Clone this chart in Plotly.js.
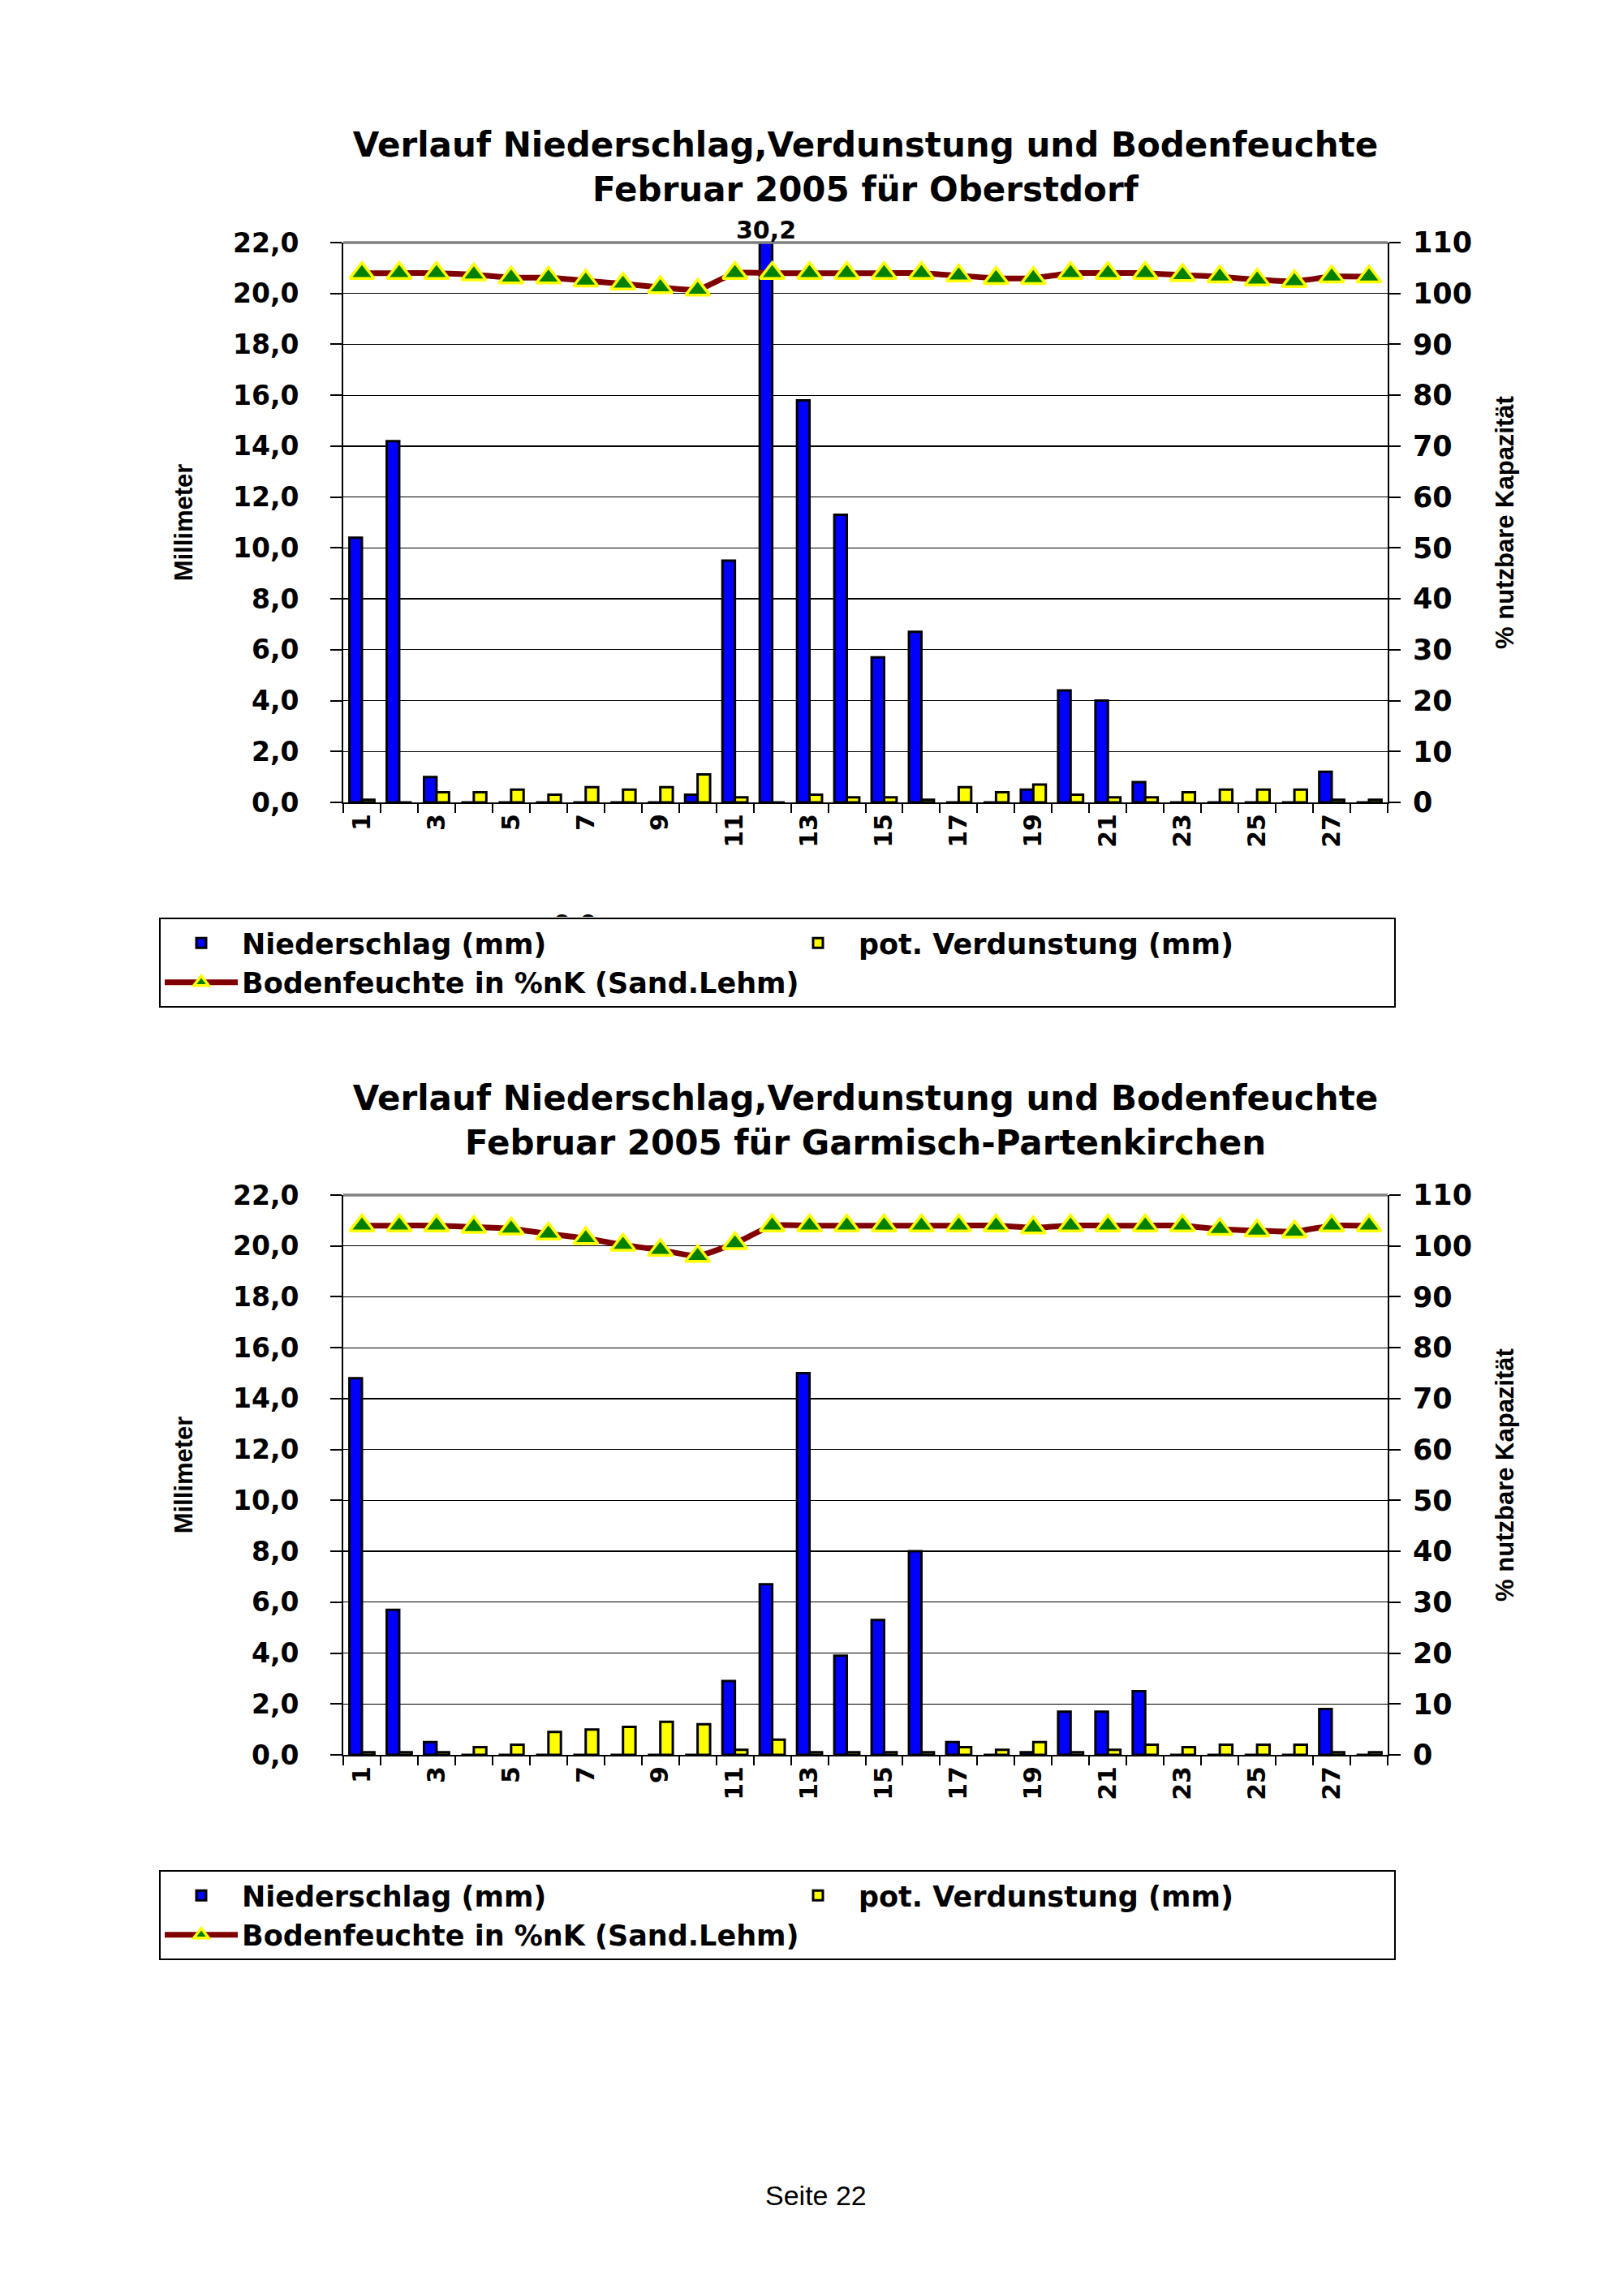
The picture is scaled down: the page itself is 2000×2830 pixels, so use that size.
<!DOCTYPE html>
<html><head><meta charset="utf-8">
<script src="https://cdn.plot.ly/plotly-3.0.1.min.js"></script>
<style>
html,body{margin:0;padding:0;background:#fff;width:2000px;height:2830px;overflow:hidden}
#c1{position:absolute;left:0;top:0;width:2000px;height:1310px}
#c2{position:absolute;left:0;top:1310px;width:2000px;height:1520px}
</style></head><body>
<div id="c1"></div><div id="c2"></div>
<script>
// ---- data ----
const days = ["1","2","3","4","5","6","7","8","9","10","11","12","13","14","15","16","17","18","19","20","21","22","23","24","25","26","27","28"];
const dayLabels = ["1","","3","","5","","7","","9","","11","","13","","15","","17","","19","","21","","23","","25","","27",""];
const seriesNames = ["Niederschlag (mm)", "pot. Verdunstung (mm)", "Bodenfeuchte in %nK (Sand.Lehm)"];
const titleTop = ["Verlauf Niederschlag,Verdunstung und Bodenfeuchte", "Februar 2005 für Oberstdorf"];
const titleBottom = ["Verlauf Niederschlag,Verdunstung und Bodenfeuchte", "Februar 2005 für Garmisch-Partenkirchen"];
const yLeftTitle = "Millimeter";
const yRightTitle = "% nutzbare Kapazität";
const pageLabel = "Seite 22";
const hiddenLabelTop = "0,0";   // data label mostly hidden behind the legend (top chart)

const oberstdorfPrecip = [10.4, 14.2, 1.0, 0, 0, 0, 0, 0, 0, 0.3, 9.5, 30.2, 15.8, 11.3, 5.7, 6.7, 0, 0, 0.5, 4.4, 4.0, 0.8, 0, 0, 0, 0, 1.2, 0];
const oberstdorfEvap   = [0.1, 0.0, 0.4, 0.4, 0.5, 0.3, 0.6, 0.5, 0.6, 1.1, 0.2, 0.0, 0.3, 0.2, 0.2, 0.1, 0.6, 0.4, 0.7, 0.3, 0.2, 0.2, 0.4, 0.5, 0.5, 0.5, 0.1, 0.1];
const oberstdorfSoil   = [104.0, 104.0, 104.0, 103.7, 103.1, 103.1, 102.5, 101.9, 101.2, 100.7, 104.0, 104.0, 104.0, 104.0, 104.0, 104.0, 103.5, 103.0, 103.0, 104.0, 104.0, 104.0, 103.6, 103.3, 102.7, 102.4, 103.3, 103.3];

const garmischPrecip = [14.8, 5.7, 0.5, 0, 0, 0, 0, 0, 0, 0, 2.9, 6.7, 15.0, 3.9, 5.3, 8.0, 0.5, 0, 0.1, 1.7, 1.7, 2.5, 0, 0, 0, 0, 1.8, 0];
const garmischEvap   = [0.1, 0.1, 0.1, 0.3, 0.4, 0.9, 1.0, 1.1, 1.3, 1.2, 0.2, 0.6, 0.1, 0.1, 0.1, 0.1, 0.3, 0.2, 0.5, 0.1, 0.2, 0.4, 0.3, 0.4, 0.4, 0.4, 0.1, 0.1];
const garmischSoil   = [104.0, 104.0, 104.0, 103.7, 103.4, 102.4, 101.5, 100.2, 99.2, 98.0, 100.5, 104.0, 104.0, 104.0, 104.0, 104.0, 104.0, 104.0, 103.6, 104.0, 104.0, 104.0, 104.0, 103.3, 103.0, 102.8, 104.0, 104.0];

const yLeftRange = [0, 22];
const yRightRange = [0, 110];

// ---- drawing ----
const FAM = "DejaVu Sans, Verdana, sans-serif";
const FAM2 = "Liberation Sans, Arial, sans-serif";
const L = 423, R = 290, PW = 2000 - L - R;

function build(id, title, precip, evap, soil, g) {
  const traces = [
    {type:'bar', name:seriesNames[0], x:days, y:precip,
     marker:{color:'#0000FF', line:{color:'#000', width:3}}},
    {type:'bar', name:seriesNames[1], x:days, y:evap,
     marker:{color:'#FFFF00', line:{color:'#000', width:3}}},
    {type:'scatter', mode:'lines+markers', name:seriesNames[2], x:days, y:soil, yaxis:'y2',
     line:{color:'#800000', width:7, shape:'spline', smoothing:0.4},
     marker:{symbol:'triangle-up', size:26, color:'#008000', line:{color:'#FFFF00', width:3.5}}}
  ];
  const annotations = [];
  precip.forEach((v, i) => {
    if (v > yLeftRange[1]) {
      annotations.push({x:i, xref:'x', y:1, yref:'paper', yanchor:'bottom', xshift:-8, yshift:-4,
        text:v.toFixed(1).replace('.', ','), showarrow:false,
        font:{family:FAM, size:30, color:'#000', weight:'bold'}});
    }
  });
  if (g.hidden) {
    annotations.push({x:g.hidden.x, xref:'paper', y:g.ly, yref:'paper', yanchor:'bottom', xanchor:'center',
      text:g.hidden.text, showarrow:false, height:9, valign:'top', borderpad:0,
      font:{family:FAM, size:30, color:'#000', weight:'bold'}});
  }
  if (g.page) {
    annotations.push({x:g.page.x, xref:'paper', y:g.page.y, yref:'paper', text:pageLabel, showarrow:false,
      font:{family:FAM2, size:34, color:'#000'}});
  }
  const layout = {
    width:2000, height:g.h,
    margin:{l:L, r:R, t:g.t, b:g.b},
    paper_bgcolor:'#fff', plot_bgcolor:'#fff',
    separators:',.',
    showlegend:true,
    hovermode:false,
    barmode:'group', bargap:0.33, bargroupgap:0,
    title:{text:title.join('<br>'), x:0.5, xref:'paper', xanchor:'center', y:g.ty, yref:'container', yanchor:'top',
      font:{family:FAM, size:42, color:'#000', weight:'bold'}},
    xaxis:{type:'category', range:[-0.5, days.length - 0.5], tickson:'boundaries', ticks:'outside', ticklen:11, tickwidth:2, tickcolor:'#000',
      tickmode:'array', tickvals:days, ticktext:dayLabels, tickangle:-90,
      tickfont:{family:FAM, size:30, color:'#000', weight:'bold'},
      showline:true, linecolor:'#000', linewidth:2, showgrid:false, zeroline:false, fixedrange:true},
    yaxis:{range:yLeftRange, dtick:2, tick0:0, tickformat:'.1f', showgrid:true, gridcolor:'#000', gridwidth:1.3,
      showline:true, linecolor:'#000', linewidth:2, ticks:'outside', ticklen:14, tickwidth:2, tickcolor:'#000',
      zeroline:false, ticklabelstandoff:32,
      tickfont:{family:FAM, size:33, color:'#000', weight:'bold'},
      title:{text:yLeftTitle, standoff:40, font:{family:FAM2, size:31, color:'#000', weight:'bold'}}},
    yaxis2:{range:yRightRange, dtick:10, tick0:0, overlaying:'y', side:'right', showgrid:false,
      showline:true, linecolor:'#000', linewidth:2, ticks:'outside', ticklen:14, tickwidth:2, tickcolor:'#000',
      zeroline:false, ticklabelstandoff:8,
      tickfont:{family:FAM, size:35, color:'#000', weight:'bold'},
      title:{text:yRightTitle, standoff:30, font:{family:FAM2, size:31, color:'#000', weight:'bold'}}},
    legend:{orientation:'h', x:g.lx, xanchor:'left', y:g.ly, yanchor:'top', entrywidth:655, entrywidthmode:'pixels',
      bgcolor:'#fff', bordercolor:'#000', borderwidth:2, itemwidth:90, traceorder:'normal',
      font:{family:FAM, size:35, color:'#000', weight:'bold'}},
    shapes:[{type:'line', xref:'paper', yref:'paper', x0:0, x1:1, y0:1, y1:1, line:{color:'#808080', width:3.5}}],
    annotations:annotations
  };
  Plotly.newPlot(id, traces, layout, {staticPlot:true, displayModeBar:false});
}

// top chart: plot 299..989 (page px); bottom chart: plot 1473..2163 (page px, div starts at 1310)
build('c1', titleTop, oberstdorfPrecip, oberstdorfEvap, oberstdorfSoil,
  {h:1310, t:299, b:1310-989, ty:1-193/1310, lx:(196-L)/PW, ly:(989-1131)/690,
   hidden:{x:(708-L)/PW, text:hiddenLabelTop}});
build('c2', titleBottom, garmischPrecip, garmischEvap, garmischSoil,
  {h:1520, t:163, b:1520-853, ty:1-58/1520, lx:(196-L)/PW, ly:(853-995)/690,
   page:{x:(1005-L)/PW, y:(853-1417)/690}});
</script>
</body></html>
